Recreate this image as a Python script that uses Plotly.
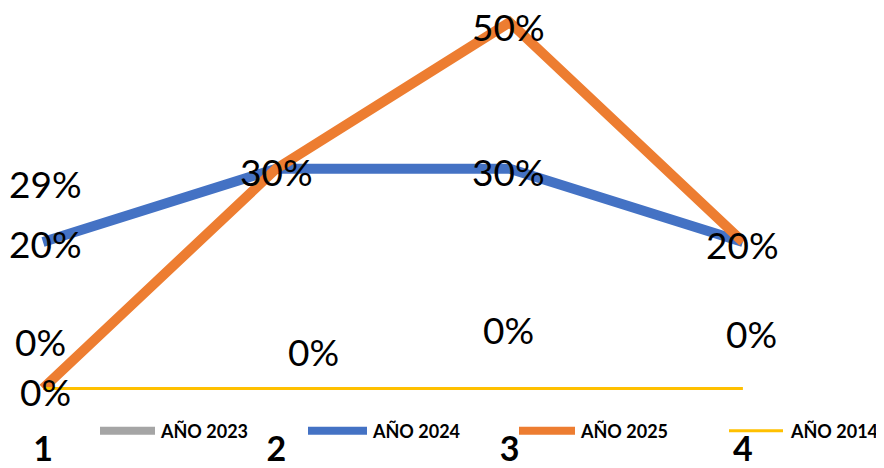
import plotly.graph_objects as go

# ---- data ----
categories = ["1", "2", "3", "4"]
anio_2023 = [0.29, 0.0, 0.0, 0.0]   # labels only (line not visible in the reference)
anio_2024 = [0.20, 0.30, 0.30, 0.20]
anio_2025 = [0.00, 0.30, 0.50, 0.20]
anio_2014 = [0.00, 0.00, 0.00, 0.00]
legend_names = ["AÑO 2023", "AÑO 2024", "AÑO 2025", "AÑO 2014"]

# ---- style ----
C_GRAY, C_BLUE, C_ORANGE, C_YELLOW = "#A5A5A5", "#4472C4", "#ED7D31", "#FFC000"
FONT = "Lato"
OFF = 8                      # page body margin offset of the figure
W, H = 884 - OFF, 468 - OFF
MB = 50
PLOT_H = H - MB

xpos = [i + 1 for i in range(len(categories))]

fig = go.Figure()
fig.add_trace(go.Scatter(x=xpos, y=anio_2024, mode="lines", name=legend_names[1],
                         line=dict(color=C_BLUE, width=10), showlegend=False))
fig.add_trace(go.Scatter(x=xpos, y=anio_2025, mode="lines", name=legend_names[2],
                         line=dict(color=C_ORANGE, width=10), showlegend=False))
fig.add_trace(go.Scatter(x=xpos, y=anio_2014, mode="lines", name=legend_names[3],
                         line=dict(color=C_YELLOW, width=3), showlegend=False))

def pct(v):
    return f"{round(v * 100)}%"

label_font = dict(family=FONT, size=37, color="black")
ann = []
def add_label(i, v, xs=0, ys=0, **kw):
    ann.append(dict(x=xpos[i], y=v, xref="x", yref="y", text=pct(v), showarrow=False,
                    font=label_font, xshift=xs, yshift=ys, **kw))

# blue labels (centered on points)
blue_offsets = [(2, -2), (0, -3), (-1, -3), (0, -3)]
for i, v in enumerate(anio_2024):
    add_label(i, v, *blue_offsets[i])
# orange labels (points 2 and 4 coincide with blue labels)
add_label(0, anio_2025[0], 2, -3)
add_label(2, anio_2025[2], -1, -4, height=34)
# gray 2023 labels (offset as in the reference)
gray_offsets = [(2, -7), (37, 37), (-1, 59), (9, 55)]
for i, v in enumerate(anio_2023):
    add_label(i, v, *gray_offsets[i])
# yellow 2014 label at the first point
add_label(0, anio_2014[0], -3, 47)

# manual legend (page pixel positions)
leg_y = (PLOT_H - (438 - OFF)) / PLOT_H
leg_items = [(100, 155, 158, C_GRAY, 8), (308, 367, 370, C_BLUE, 8),
             (519, 575, 578, C_ORANGE, 8), (729, 783, 788, C_YELLOW, 3)]
shapes = []
for name, (x0, x1, xt, col, lw) in zip(legend_names, leg_items):
    shapes.append(dict(type="line", xref="paper", yref="paper", x0=(x0 - OFF) / W, x1=(x1 - OFF) / W,
                       y0=leg_y, y1=leg_y, line=dict(color=col, width=lw)))
    ann.append(dict(x=(xt - OFF) / W, y=leg_y, xref="paper", yref="paper", text=f"<b>{name}</b>",
                    showarrow=False, xanchor="left", yanchor="middle",
                    font=dict(family=FONT, size=18, color="black")))

# axis ranges so that points sit where they are in the reference
step = 233.3
x_lo = 1 - (43 - OFF) / step
x_hi = x_lo + W / step
y_scale = 745.0
y_hi = (395 - OFF) / y_scale
y_lo = -(PLOT_H - (395 - OFF)) / y_scale

fig.update_layout(
    width=W, height=H,
    margin=dict(l=0, r=0, t=0, b=MB),
    paper_bgcolor="white", plot_bgcolor="white",
    showlegend=False,
    annotations=ann, shapes=shapes,
    xaxis=dict(range=[x_lo, x_hi], showgrid=False, zeroline=False,
               tickmode="array", tickvals=xpos, ticktext=categories,
               showline=False, ticks="",
               tickfont=dict(family=FONT, size=34, color="black", weight="bold"),
               ticklabelstandoff=15),
    yaxis=dict(range=[y_lo, y_hi], showgrid=False, zeroline=False, showline=False,
               showticklabels=False, ticks=""),
)

fig.write_html("out.html")
